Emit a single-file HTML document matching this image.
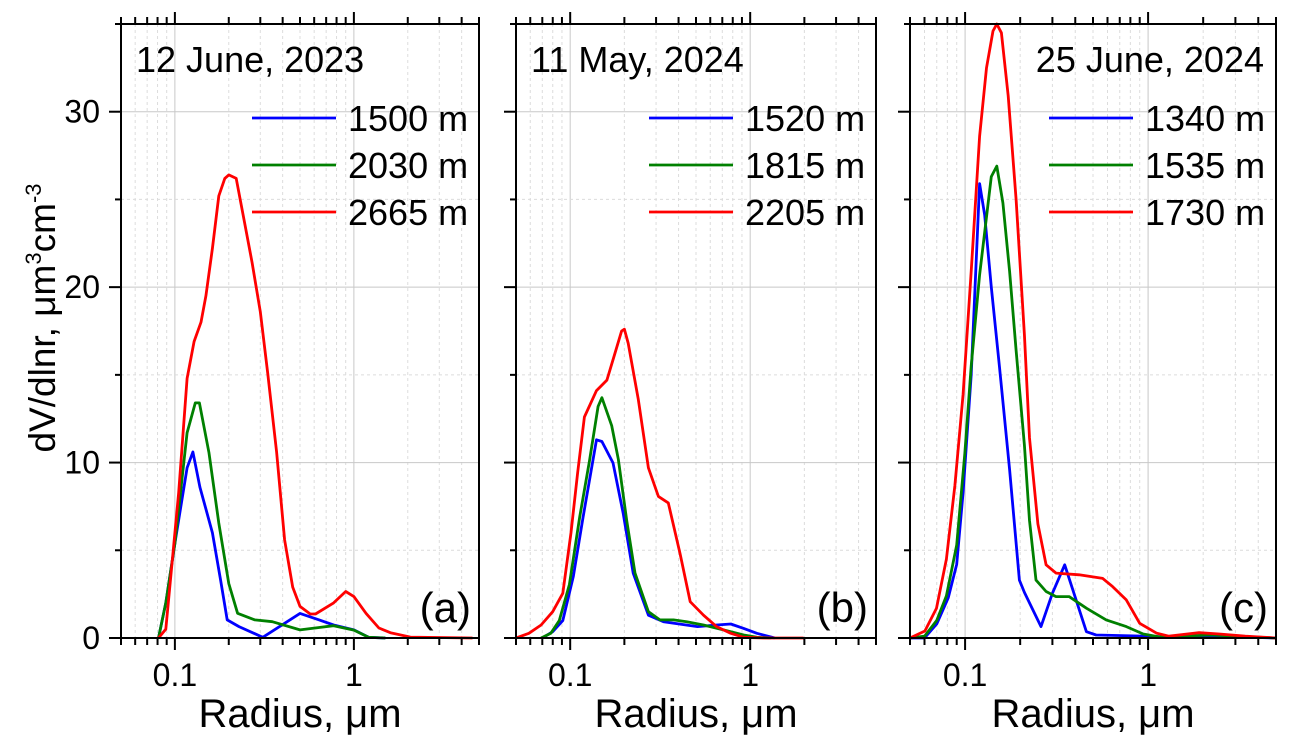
<!DOCTYPE html>
<html><head><meta charset="utf-8"><style>
body{margin:0;background:#fff;width:1291px;height:749px;overflow:hidden}
svg{display:block;font-family:"Liberation Sans",Arial,sans-serif}
</style></head><body>
<svg id="chart" width="1291" height="749" viewBox="0 0 1291 749" xmlns="http://www.w3.org/2000/svg"></svg>
<script>
// Panel (a) 12 June 2023
const aBlueR=[0.081,0.089,0.1,0.117,0.126,0.138,0.162,0.18,0.196,0.228,0.31,0.5,0.64,0.77,1.0,1.21,1.5];
const aBlueV=[0,2,5.4,9.7,10.6,8.6,6.0,3.3,1.03,0.65,0.04,1.4,1.03,0.74,0.46,0.04,0];
const aGreenR=[0.081,0.089,0.1,0.117,0.13,0.137,0.155,0.176,0.2,0.224,0.28,0.35,0.5,0.64,0.77,1.0,1.21,1.5];
const aGreenV=[0,2,5.4,11.7,13.4,13.4,10.55,6.55,3.1,1.41,1.03,0.93,0.46,0.6,0.7,0.45,0.04,0];
const aRedR=[0.081,0.089,0.105,0.117,0.128,0.14,0.149,0.162,0.176,0.19,0.2,0.22,0.245,0.27,0.3,0.33,0.37,0.41,0.455,0.5,0.57,0.61,0.77,0.9,1.0,1.17,1.38,1.6,2.07,4.6];
const aRedV=[0,0.5,8.3,14.8,16.9,18,19.5,22.2,25.2,26.2,26.4,26.2,23.7,21.4,18.6,15.1,10.6,5.6,2.9,1.8,1.37,1.37,2.0,2.65,2.36,1.4,0.57,0.3,0.05,0];
// Panel (b) 11 May 2024
const bBlueR=[0.07,0.08,0.091,0.104,0.118,0.14,0.15,0.173,0.197,0.224,0.272,0.33,0.51,0.65,0.78,0.92,1.09,1.37];
const bBlueV=[0,0.36,1,3.5,6.9,11.3,11.2,9.98,7.1,3.7,1.3,0.93,0.65,0.74,0.8,0.55,0.27,0];
const bGreenR=[0.0689,0.078,0.087,0.099,0.113,0.128,0.143,0.15,0.17,0.185,0.206,0.229,0.272,0.315,0.375,0.444,0.55,0.71,0.92,1.09,1.3];
const bGreenV=[0,0.27,1,3.05,6.9,10.1,13.2,13.7,12.1,10.2,6.7,3.7,1.5,1.03,1.03,0.93,0.74,0.46,0.17,0.04,0];
const bRedR=[0.05,0.059,0.0689,0.08,0.091,0.101,0.11,0.12,0.14,0.16,0.177,0.193,0.2,0.21,0.239,0.272,0.309,0.351,0.408,0.464,0.55,0.65,0.78,0.92,1.2,1.98];
const bRedV=[0,0.27,0.74,1.5,2.55,6,9.4,12.6,14.1,14.7,16.2,17.5,17.6,16.8,13.6,9.7,8.07,7.7,4.8,2.07,1.3,0.65,0.27,0.04,0,0];
// Panel (c) 25 June 2024
const cBlueR=[0.05,0.06,0.07,0.081,0.09,0.0975,0.108,0.12,0.128,0.139,0.154,0.175,0.198,0.211,0.26,0.3,0.35,0.404,0.46,0.52,0.97,1.5,3.4,5];
const cBlueV=[0,0,0.8,2.3,4.2,8.3,15,25.9,24.1,20,15.5,9.6,3.3,2.6,0.65,2.55,4.17,2.17,0.36,0.17,0.1,0.03,0.05,0];
const cGreenR=[0.05,0.06,0.07,0.079,0.09,0.0996,0.108,0.12,0.139,0.149,0.161,0.175,0.19,0.211,0.225,0.244,0.277,0.314,0.37,0.46,0.59,0.76,0.94,1.15,2.2,5];
const cGreenV=[0,0.1,1.0,2.4,5.3,10.5,15.5,20.7,26.3,26.9,24.8,20.9,16.4,11,6.7,3.3,2.65,2.36,2.36,1.7,1.03,0.65,0.23,0.06,0.17,0];
const cRedR=[0.05,0.0603,0.0698,0.079,0.088,0.0975,0.108,0.12,0.131,0.142,0.149,0.158,0.172,0.19,0.211,0.225,0.25,0.277,0.314,0.42,0.565,0.64,0.76,0.9,1.11,1.3,1.9,2.45,3.4,5];
const cRedV=[0,0.4,1.7,4.5,8.7,13.9,20.9,28.6,32.5,34.6,35,34.5,30.9,25,17.3,11.4,6.5,4.17,3.7,3.6,3.4,2.93,2.17,0.84,0.28,0.1,0.3,0.23,0.1,0];

const yTicks=[0,10,20,30];
const xTickVals=[0.1,1];
const xTickLabels=["0.1","1"];
const panelTitles=["12 June, 2023","11 May, 2024","25 June, 2024"];
const panelTags=["(a)","(b)","(c)"];
const legendLabels=[["1500 m","2030 m","2665 m"],["1520 m","1815 m","2205 m"],["1340 m","1535 m","1730 m"]];
const colors=["#0000ff","#008000","#ff0000"];

const NS="http://www.w3.org/2000/svg";
const svgEl=document.getElementById('chart');
function mk(tag,attrs,parent){const e=document.createElementNS(NS,tag);for(const k in attrs)e.setAttribute(k,attrs[k]);(parent||svgEl).appendChild(e);return e;}

const pTop=24,pBot=638,yMax=35;
const panels=[{l:121,r:479},{l:516,r:876},{l:910,r:1276}];
const data=[[[aBlueR,aBlueV],[aGreenR,aGreenV],[aRedR,aRedV]],[[bBlueR,bBlueV],[bGreenR,bGreenV],[bRedR,bRedV]],[[cBlueR,cBlueV],[cGreenR,cGreenV],[cRedR,cRedV]]];
const xmin=Math.log10(0.05),xmax=Math.log10(5);
function yS(v){return pBot-(v/yMax)*(pBot-pTop);}

panels.forEach((p,pi)=>{
  const g=mk('g',{});
  
  
  const xS=r=>p.l+(Math.log10(r)-xmin)/(xmax-xmin)*(p.r-p.l);
  for(let d=-2;d<=0;d++)for(let m=1;m<=9;m++){const v=m*Math.pow(10,d);if(v<0.05||v>5)continue;const x=xS(v);
    const ln=mk('line',{x1:x,x2:x,y1:pTop,y2:pBot,stroke:m==1?'#c8c8c8':'#dcdcdc','stroke-width':1,'stroke-dasharray':m==1?'none':'3,3'},g);
    
    }
  for(let v=5;v<yMax;v+=5){const y=yS(v);
    const ln=mk('line',{x1:p.l,x2:p.r,y1:y,y2:y,stroke:v%10==0?'#c8c8c8':'#dcdcdc','stroke-width':1,'stroke-dasharray':v%10==0?'none':'3,3'},g);
    
    }
  data[pi].forEach((s,si)=>{
    const pts=s[0].map((r,i)=>xS(r).toFixed(1)+','+yS(s[1][i]).toFixed(1)).join(' ');
    const pl=mk('polyline',{points:pts,fill:'none',stroke:colors[si],'stroke-width':2.8,'stroke-linejoin':'round'},g);
    
    
  });
  const fr=mk('rect',{x:p.l,y:pTop,width:p.r-p.l,height:pBot-pTop,fill:'none',stroke:'#000','stroke-width':2},g);
  
  
  for(let d=-2;d<=0;d++)for(let m=1;m<=9;m++){const v=m*Math.pow(10,d);if(v<0.05||v>5.01)continue;const x=xS(v);const L=m==1?12:7;
    mk('line',{x1:x,x2:x,y1:pBot,y2:pBot+L,stroke:'#000','stroke-width':2},g);
    mk('line',{x1:x,x2:x,y1:pTop,y2:pTop-L,stroke:'#000','stroke-width':2},g);}
  xTickVals.forEach((v,i)=>{const t=mk('text',{x:xS(v),y:686,'font-size':32,'text-anchor':'middle'},g);t.textContent=xTickLabels[i];
    
    });
  for(let v=0;v<=yMax;v+=5){const y=yS(v);const L=v%10==0?12:6;mk('line',{x1:p.l,x2:p.l-L,y1:y,y2:y,stroke:'#000','stroke-width':2},g);}
  if(pi==0)yTicks.forEach(v=>{const t=mk('text',{x:p.l-21,y:yS(v)+11,'font-size':32,'text-anchor':'end'},g);t.textContent=v;
    
    });
  const xt=mk('text',{x:(p.l+p.r)/2,y:727,'font-size':40,'text-anchor':'middle'},g);xt.textContent='Radius, \u03bcm';
  
  
  const tt=pi==2?mk('text',{x:p.r-12,y:72,'font-size':36,'text-anchor':'end'},g):mk('text',{x:p.l+15,y:72,'font-size':36},g);
  tt.textContent=panelTitles[pi];
  
  
  const tg=mk('text',{x:p.r-8,y:622,'font-size':42,'text-anchor':'end'},g);tg.textContent=panelTags[pi];
  
  
  const lx=p.r-227, ly=[118,165,212];
  legendLabels[pi].forEach((lab,i)=>{
    const le=mk('g',{},g);
    
    
    mk('line',{x1:lx,x2:lx+84,y1:ly[i],y2:ly[i],stroke:colors[i],'stroke-width':2.8},le);
    const t=mk('text',{x:lx+96,y:ly[i]+13,'font-size':36},le);t.textContent=lab;
  });
});
const yt=mk('text',{transform:'translate(55,318) rotate(-90)','font-size':37,'text-anchor':'middle'});


const ts=[['dV/dlnr, \u03bcm',null,null],['3','-14','22'],['cm','14',null],['-3','-14','22']];
ts.forEach(a=>{const s=mk('tspan',a[1]?{dy:a[1]}:{},yt);if(a[2])s.setAttribute('font-size',a[2]);s.textContent=a[0];});
</script>
</body></html>
